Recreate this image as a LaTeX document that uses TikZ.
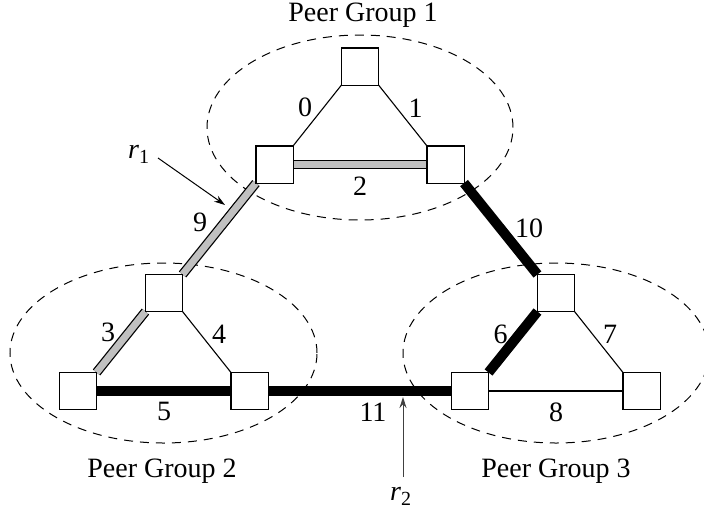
\documentclass[tikz,border=0pt]{standalone}
\usepackage{fontspec}
\setmainfont{Liberation Serif}
\usetikzlibrary{arrows.meta}
\definecolor{barGray}{RGB}{192,192,192}
\begin{document}
\begin{tikzpicture}[x=1pt,y=-1pt,
  router/.style={draw, line width=1.1pt, fill=white, minimum size=36pt, inner sep=0pt},
  thinlink/.style={line width=1.1pt},
  heavylink/.style={line width=10pt},
  graylink/.style={line width=9.5pt, black, postaction={draw, barGray, line width=7pt}},
  lbl/.style={font=\fontsize{28}{32}\selectfont, inner sep=0pt},
  group/.style={dashed, line width=1pt, dash pattern=on 9pt off 7pt},
  ptr/.style={line width=1pt, -{Stealth[length=11pt,width=7pt]}}
]
\path[use as bounding box] (0,0) rectangle (704,515);

% peer group outlines
\draw[group] (360,127.5) ellipse [x radius=153pt, y radius=92.5pt];
\draw[group] (163.5,353) ellipse [x radius=153.5pt, y radius=90pt];
\draw[group] (556,353) ellipse [x radius=153pt, y radius=90pt];

% routers (placed first, redrawn on top of links below)
\node[router] (a) at (360,66.5) {};
\node[router] (b) at (274.5,164.5) {};
\node[router] (c) at (445.5,164.5) {};
\node[router] (d) at (164,293) {};
\node[router] (e) at (78,391) {};
\node[router] (f) at (249.5,391) {};
\node[router] (g) at (556,293) {};
\node[router] (h) at (470,391) {};
\node[router] (i) at (641.5,391) {};

% links
\draw[thinlink] (a.south west) -- (b.north east);
\draw[thinlink] (a.south east) -- (c.north west);
\draw[graylink] (b.east) -- (c.west);
\draw[graylink] (b.south west) -- (d.north east);
\draw[heavylink] (c.south east) -- (g.north west);
\draw[graylink] (d.south west) -- (e.north east);
\draw[thinlink] (d.south east) -- (f.north west);
\draw[heavylink] (e.east) -- (f.west);
\draw[heavylink] (f.east) -- (h.west);
\draw[heavylink] (g.south west) -- (h.north east);
\draw[thinlink] (g.south east) -- (i.north west);
\draw[thinlink] (h.east) -- (i.west);

% redraw routers on top of links
\foreach \n in {a,b,c,d,e,f,g,h,i}{
  \draw[line width=1.1pt, fill=white] (\n.north west) rectangle (\n.south east);
}

% link labels
\node[lbl] (l0) at (305,107) {0};
\node[lbl] (l1) at (415.5,108) {1};
\node[lbl] (l2) at (360,186) {2};
\node[lbl] (l9) at (200,222) {9};
\node[lbl] (l10) at (529,228) {10};
\node[lbl] (l3) at (108,332) {3};
\node[lbl] (l4) at (219,334) {4};
\node[lbl] (l5) at (164,411) {5};
\node[lbl] (l11) at (373,412) {11};
\node[lbl] (l6) at (500.5,334) {6};
\node[lbl] (l7) at (610,334) {7};
\node[lbl] (l8) at (556,412) {8};

% group names
\node[lbl, anchor=base] (pg1) at (363,21) {Peer Group 1};
\node[lbl, anchor=base] (pg2) at (162,477) {Peer Group 2};
\node[lbl, anchor=base] (pg3) at (556,477) {Peer Group 3};

% route pointers
\node[lbl, anchor=base west] (r1) at (128,158) {\textit{r}\raisebox{-5pt}{\fontsize{20}{22}\selectfont 1}};
\coordinate (r1tail) at (158,158);
\coordinate (r1tip) at (225,205);
\draw[ptr] (r1tail) -- (r1tip);
\node[lbl, anchor=base west] (r2) at (390,500) {\textit{r}\raisebox{-5pt}{\fontsize{20}{22}\selectfont 2}};
\coordinate (r2tip) at (403,397);
\coordinate (r2tail) at (403,477);
\draw[ptr, black!75] (r2tail) -- (r2tip);
\end{tikzpicture}
\end{document}
